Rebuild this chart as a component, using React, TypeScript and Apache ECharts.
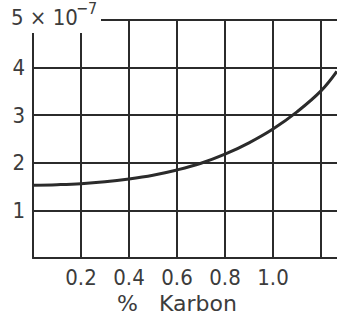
import React, { useEffect, useRef } from "react";
import * as echarts from "echarts";

const carbonPct = [0, 0.1, 0.2, 0.3, 0.4, 0.5, 0.6, 0.7, 0.8, 0.9, 1.0, 1.1, 1.2, 1.266];
const valueE7 = [1.53, 1.54, 1.56, 1.6, 1.66, 1.74, 1.85, 1.99, 2.18, 2.42, 2.71, 3.07, 3.51, 3.92];
const xTicksShown = [0.2, 0.4, 0.6, 0.8, 1.0];
const yTicksShown = [1, 2, 3, 4];

const INK = "#2b2b2b";
const TEXT = "#3c3c3c";
const FONT = "'DejaVu Sans Condensed', 'Liberation Sans', sans-serif";
const NAME_FONT = "'DejaVu Sans', sans-serif";

export default function App() {
  const ref = useRef<HTMLDivElement>(null);
  useEffect(() => {
    document.body.style.margin = "0";
    const chart = echarts.init(ref.current!, null, { renderer: "svg" });
    chart.setOption({
      animation: false,
      backgroundColor: "#ffffff",
      grid: { left: 33, top: 20, right: 0, height: 238, containLabel: false },
      xAxis: {
        type: "value",
        min: 0,
        max: 1.2667,
        interval: 0.2,
        axisLine: { show: true, lineStyle: { color: INK, width: 2 } },
        axisTick: { show: false },
        splitLine: { show: true, showMaxLine: false, lineStyle: { color: INK, width: 2 } },
        axisLabel: {
          margin: 8,
          fontSize: 22,
          fontFamily: FONT,
          color: TEXT,
          showMaxLabel: false,
          formatter: (v: number) =>
            xTicksShown.some((t) => Math.abs(t - v) < 1e-6) ? v.toFixed(1) : "",
        },
      },
      yAxis: {
        type: "value",
        min: 0,
        max: 5,
        interval: 1,
        axisLine: { show: true, lineStyle: { color: INK, width: 2 } },
        axisTick: { show: false },
        splitLine: { show: true, lineStyle: { color: INK, width: 2 } },
        axisLabel: {
          margin: 8,
          fontSize: 22,
          fontFamily: FONT,
          color: TEXT,
          formatter: (v: number) => (yTicksShown.includes(v) ? String(v) : ""),
        },
      },
      series: [
        {
          type: "line",
          data: carbonPct.map((x, i) => [x, valueE7[i]]),
          smooth: 0.4,
          showSymbol: false,
          lineStyle: { color: INK, width: 3 },
          z: 3,
        },
      ],
      graphic: [
        { type: "rect", left: 0, top: 0, z: 100, shape: { width: 101, height: 33 }, style: { fill: "#ffffff" } },
        { type: "text", left: 11, top: 6, z: 101, style: { text: "5 × 10", fontSize: 22, fontFamily: FONT, fill: TEXT } },
        { type: "text", left: 76, top: 0, z: 101, style: { text: "−7", fontSize: 16, fontFamily: FONT, fill: TEXT } },
        { type: "text", left: 117, top: 292, z: 101, style: { text: "%   Karbon", fontSize: 22, fontFamily: NAME_FONT, fill: TEXT } },
      ],
    });
    return () => chart.dispose();
  }, []);
  return <div ref={ref} style={{ width: 337, height: 322 }} />;
}
